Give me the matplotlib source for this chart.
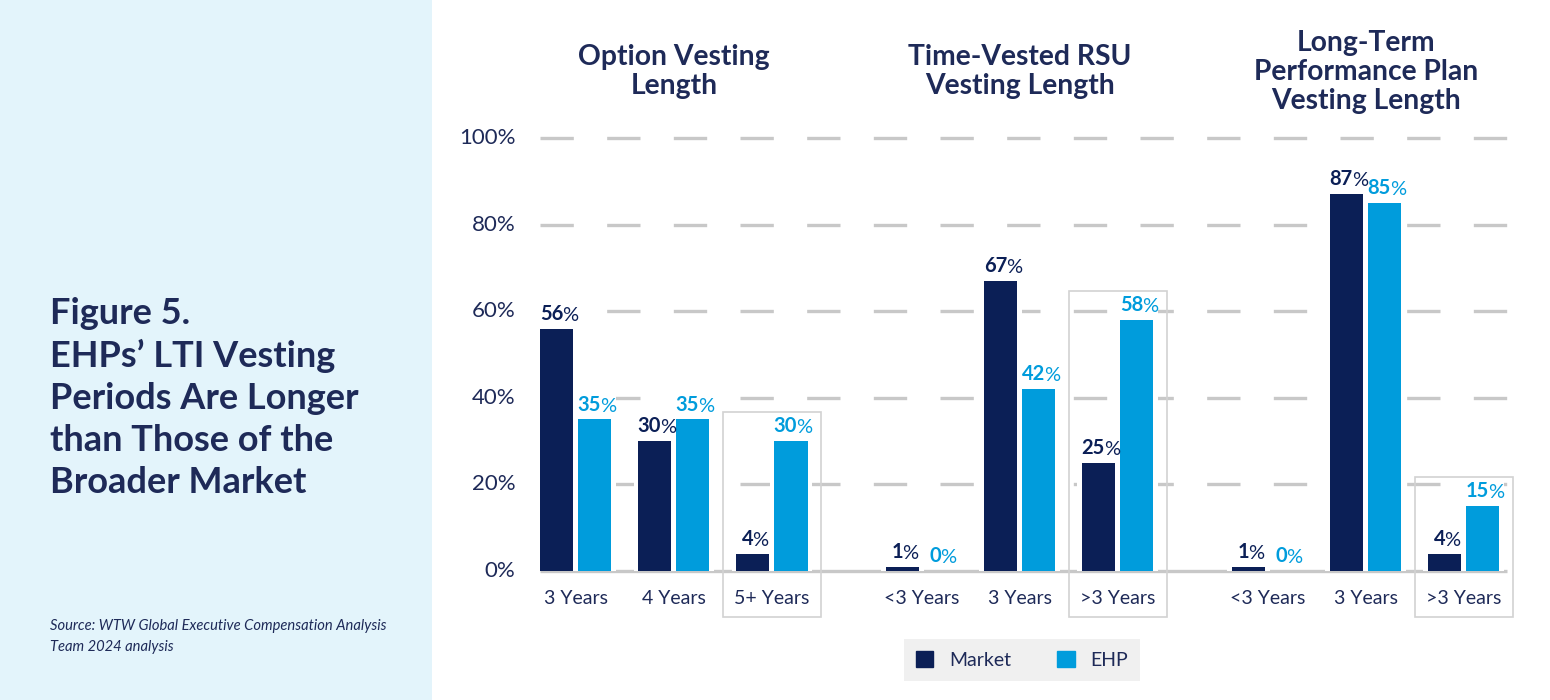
import matplotlib.pyplot as plt
from matplotlib.patches import Rectangle, Patch

plt.rcParams['font.family'] = ['Lato', 'DejaVu Sans']

# ===== data =====
groups = ["Option Vesting\nLength", "Time-Vested RSU\nVesting Length",
          "Long-Term\nPerformance Plan\nVesting Length"]
categories = [["3 Years", "4 Years", "5+ Years"],
              ["<3 Years", "3 Years", ">3 Years"],
              ["<3 Years", "3 Years", ">3 Years"]]
market = [[56, 30, 4], [1, 67, 25], [1, 87, 4]]
ehp = [[35, 35, 30], [0, 42, 58], [0, 85, 15]]
boxed = [2, 2, 2]   # highlighted category in each group
yticks = [0, 20, 40, 60, 80, 100]

# ===== style =====
NAVY = '#0b1f56'
BLUE = '#009cdc'
TXT = '#1e2a58'
GRID = '#c8c8c8'

fig = plt.figure(figsize=(15.5, 7), dpi=100)
fig.patches.append(Rectangle((0, 0), 432 / 1550, 1, transform=fig.transFigure,
                             facecolor='#e3f4fb', edgecolor='none', zorder=0))

ax = fig.add_axes([540 / 1550, 1 - 571 / 700, (1507 - 540) / 1550, (571 - 138) / 700])
ax.set_xlim(-0.367, 9.5)
ax.set_ylim(0, 100)
ax.axis('off')

gap = 3.53
off = 0.194
bw = 0.337
pad_x = 0.05

# grid
for t in yticks:
    if t > 0:
        ax.hlines(t, -0.367, 9.5, colors=GRID, lw=2.4, linestyles=(0, (10, 10)),
                  zorder=1, clip_on=False)
    ax.text(-0.62, t, f"{t}%", ha='right', va='center', fontsize=16, color=TXT)
ax.hlines(0, -0.367, 9.5, colors=GRID, lw=2.4, zorder=1, clip_on=False)


def value_label(x, v, color):
    num = ax.annotate(f"{v}", xy=(x, v), xytext=(-4, 3.5), textcoords='offset points',
                      ha='center', va='bottom', fontsize=14.5, fontweight='bold',
                      color=color, zorder=5)
    ax.annotate("%", xy=(1, 0), xycoords=num, xytext=(-0.8, 0), textcoords='offset points',
                ha='left', va='bottom', fontsize=14.5, color=color, zorder=5)


for g in range(3):
    base = g * gap
    for i, cat in enumerate(categories[g]):
        c = base + i
        for x, v, col in ((c - off, market[g][i], NAVY), (c + off, ehp[g][i], BLUE)):
            if v > 0:
                ax.bar(x, v + 7, width=bw + 2 * pad_x, bottom=-1.2, color='white', zorder=2)
                ax.bar(x, v, width=bw, color=col, zorder=3)
            value_label(x, v, col)
        ax.text(c, -6.4, cat, ha='center', va='center', fontsize=14, color=TXT)
        if i == boxed[g]:
            top = max(market[g][i], ehp[g][i]) + 6.7
            ax.add_patch(Rectangle((c - 0.5, -10.6), 1.0, top + 10.6, fill=False,
                                   edgecolor='#d2d2d2', lw=1.2, zorder=4, clip_on=False))
    ax.text(base + 1, 115.3, groups[g], ha='center', va='center', fontsize=20.3,
            fontweight='bold', color=TXT, linespacing=1.15, multialignment='center')

# legend
fig.legend(handles=[Patch(color=NAVY), Patch(color=BLUE)], labels=["Market", "EHP"],
           ncol=2, loc='center', bbox_to_anchor=(1022 / 1550, 1 - 660 / 700),
           frameon=True, facecolor='#f0f0f0', edgecolor='none', fancybox=False,
           framealpha=1, fontsize=14, handlelength=0.9, handleheight=0.9,
           columnspacing=2.4, borderpad=0.6, labelcolor=TXT)

# left panel text
fig.text(50 / 1550, 1 - 297 / 700,
         "Figure 5.\nEHPs\u2019 LTI Vesting\nPeriods Are Longer\nthan Those of the\nBroader Market",
         ha='left', va='top', fontsize=26, fontweight='bold', color=TXT, linespacing=1.33)
fig.text(50 / 1550, 1 - 619 / 700,
         "Source: WTW Global Executive Compensation Analysis\nTeam 2024 analysis",
         ha='left', va='top', fontsize=10.6, style='italic', color=TXT, linespacing=1.6)

fig.savefig("out.png", dpi=100)
